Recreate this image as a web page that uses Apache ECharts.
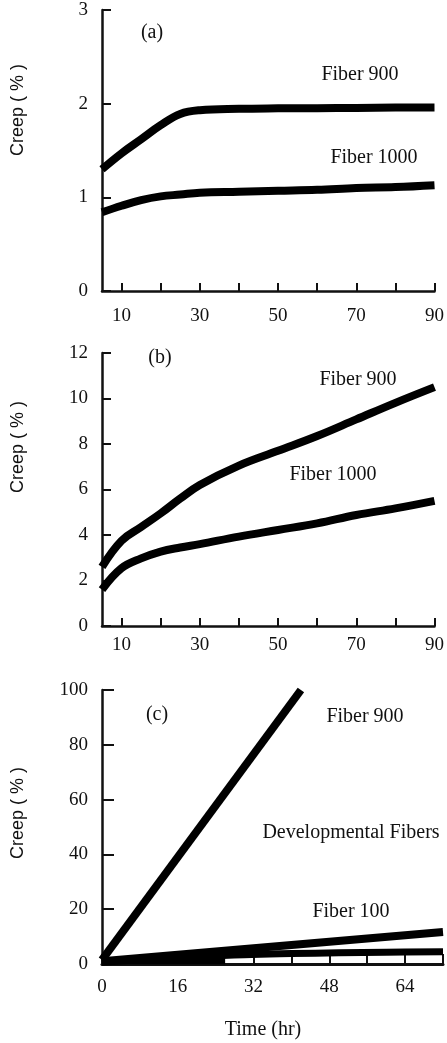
<!DOCTYPE html>
<html>
<head>
<meta charset="utf-8">
<script src="https://cdn.jsdelivr.net/npm/echarts@6/dist/echarts.min.js"></script>
<style>
  html, body { margin: 0; padding: 0; background: #fff; }
  #chart { width: 447px; height: 1043px; }
</style>
</head>
<body>
<div id="chart"></div>
<script>
// panel (a) / (b): time in hours
const timeAB = [5, 10, 15, 20, 25, 30, 40, 50, 60, 70, 80, 90];
const aFiber900 = [1.3, 1.47, 1.62, 1.77, 1.89, 1.93, 1.945, 1.95, 1.952, 1.955, 1.958, 1.96];
const aFiber1000 = [0.84, 0.91, 0.97, 1.01, 1.03, 1.05, 1.06, 1.07, 1.08, 1.1, 1.11, 1.13];
const bFiber900 = [2.6, 3.75, 4.35, 4.95, 5.6, 6.2, 7.05, 7.7, 8.35, 9.08, 9.81, 10.5];
const bFiber1000 = [1.6, 2.54, 2.97, 3.27, 3.45, 3.6, 3.93, 4.22, 4.51, 4.88, 5.17, 5.5];
const abTicks = [10, 20, 30, 40, 50, 60, 70, 80, 90];
const abLabels = [10, 30, 50, 70, 90];

// panel (c)
const cFiber900 = [[0, 1.5], [42, 100]];
const cFiber100 = [[0, 1], [72, 11.7]];
const cDevUpper = [[0, 0.6], [10, 1.8], [20, 2.7], [30, 3.4], [40, 3.8], [50, 4.1], [60, 4.3], [72, 4.5]];
const cDevLower = [[0, 1.2], [26, 1.2]];
const cLabels = [0, 16, 32, 48, 64];

const serif = '"Liberation Serif", "DejaVu Serif", serif';
const ink = '#111';

const pair = (xs, ys) => xs.map((x, i) => [x, ys[i]]);

function xAxisAB(idx) {
  return {
    type: 'value', gridIndex: idx, min: 5, max: 90,
    axisLine: { lineStyle: { color: ink, width: 2.5 } },
    axisTick: { inside: true, length: 8, customValues: abTicks, lineStyle: { color: ink, width: 2 } },
    axisLabel: { customValues: abLabels, margin: idx === 0 ? 16 : 10, color: ink, fontFamily: serif, fontSize: 19 },
    splitLine: { show: false }
  };
}

function yAxis(idx, max, interval, tickLen) {
  return {
    type: 'value', gridIndex: idx, min: 0, max, interval,
    axisLine: { show: true, lineStyle: { color: ink, width: 2.5 } },
    axisTick: { show: true, inside: true, length: tickLen, lineStyle: { color: ink, width: 2 } },
    axisLabel: { margin: 14, color: ink, fontFamily: serif, fontSize: 19 },
    splitLine: { show: false }
  };
}

function line(xi, data, width, extra) {
  return Object.assign({
    type: 'line', xAxisIndex: xi, yAxisIndex: xi, data,
    showSymbol: false, smooth: 0.4,
    lineStyle: { color: '#000', width },
    itemStyle: { color: '#000' }
  }, extra || {});
}

function note(text, x, y, size) {
  return {
    type: 'text', x, y,
    style: { text, fill: ink, font: (size || 20) + 'px ' + serif, align: 'center', verticalAlign: 'middle' }
  };
}

function creep(y) {
  return {
    type: 'text', x: 18, y, rotation: Math.PI / 2,
    style: { text: 'Creep ( % )', fill: ink, font: '18px "Liberation Sans", Arial, sans-serif', align: 'center', verticalAlign: 'middle' }
  };
}

const chart = echarts.init(document.getElementById('chart'));
chart.setOption({
  animation: false,
  backgroundColor: '#fff',
  grid: [
    { left: 102, top: 10, width: 336, height: 281 },
    { left: 102, top: 353, width: 336, height: 273 },
    { left: 102, top: 690, width: 341, height: 274 }
  ],
  xAxis: [
    xAxisAB(0),
    xAxisAB(1),
    {
      type: 'value', gridIndex: 2, min: 0, max: 72, interval: 8,
      axisLine: { lineStyle: { color: ink, width: 3 } },
      axisTick: { inside: true, length: 10, lineStyle: { color: ink, width: 2 } },
      axisLabel: { customValues: cLabels, margin: 14, color: ink, fontFamily: serif, fontSize: 19 },
      splitLine: { show: false }
    }
  ],
  yAxis: [
    yAxis(0, 3, 1, 9),
    yAxis(1, 12, 2, 9),
    yAxis(2, 100, 20, 12)
  ],
  series: [
    line(0, pair(timeAB, aFiber900), 8),
    line(0, pair(timeAB, aFiber1000), 8),
    line(1, pair(timeAB, bFiber900), 8),
    line(1, pair(timeAB, bFiber1000), 8),
    line(2, cFiber900, 8, { smooth: false, clip: false }),
    line(2, cFiber100, 8, { smooth: false }),
    line(2, cDevUpper, 7),
    line(2, cDevLower, 7, { smooth: false })
  ],
  graphic: [
    note('(a)', 152, 33),
    note('Fiber 900', 360, 75),
    note('Fiber 1000', 374, 158),
    note('(b)', 160, 358),
    note('Fiber 900', 358, 380),
    note('Fiber 1000', 333, 475),
    note('(c)', 157, 715),
    note('Fiber 900', 365, 717),
    note('Developmental Fibers', 351, 833),
    note('Fiber 100', 351, 912),
    note('Time (hr)', 263, 1030),
    creep(110),
    creep(447),
    creep(813)
  ]
});
</script>
</body>
</html>
